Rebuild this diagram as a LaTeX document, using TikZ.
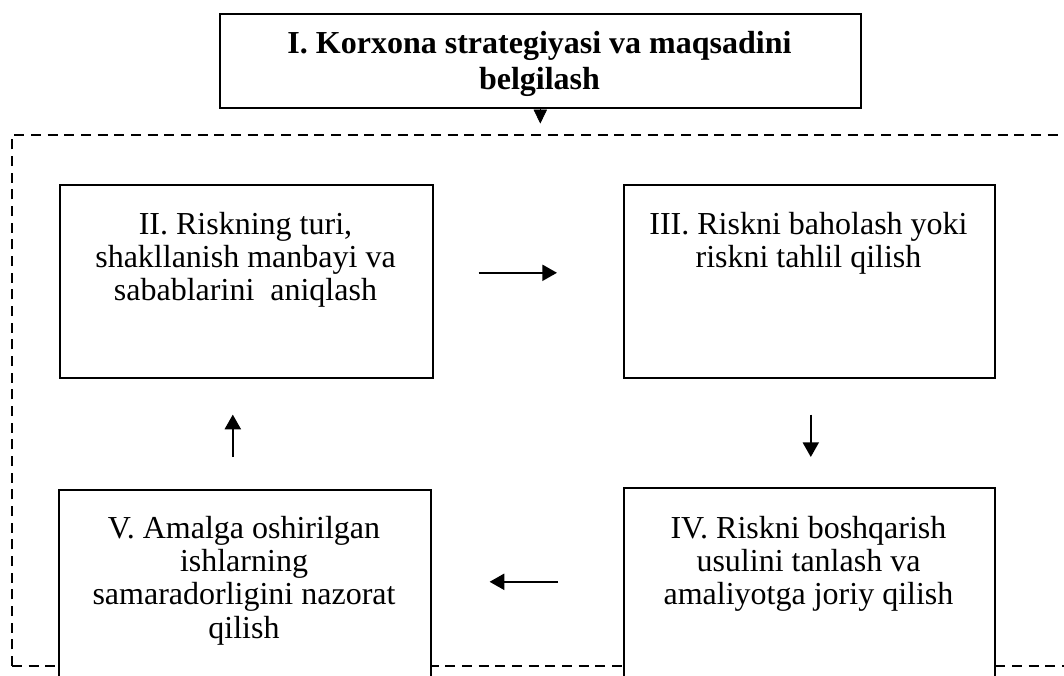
\documentclass[tikz,border=0pt]{standalone}
\usepackage{fontspec}
\setmainfont{Liberation Serif}
\usetikzlibrary{arrows.meta,calc}
\begin{document}
\begin{tikzpicture}[x=0.75pt,y=-0.75pt,
  box/.style={draw, line width=1.2pt, fill=white, inner sep=0pt, anchor=north west},
  body/.style={font=\fontsize{24pt}{25pt}\selectfont, align=center, inner sep=0pt, anchor=north},
  titletext/.style={font=\bfseries\fontsize{24pt}{27pt}\selectfont, align=center, inner sep=0pt, anchor=north},
  arr/.style={line width=1.6pt, -{Triangle[length=11pt,width=12pt]}},
  frame/.style={line width=1.5pt, dash pattern=on 7.5pt off 5pt}]
\path[use as bounding box, clip] (0,0) rectangle (1064,675);
% dashed frame
\draw[frame] (12,666) -- (12,135) -- (1090,135);
\draw[frame] (12,666) -- (1090,666);
% boxes
\node[box, minimum width=480.75pt, minimum height=70.5pt] (top) at (219,13) {};
\node[box, minimum width=279.75pt, minimum height=144.75pt] (b2) at (59,184) {};
\node[box, minimum width=278.25pt, minimum height=144.75pt] (b3) at (623,184) {};
\node[box, minimum width=278.25pt, minimum height=187.5pt] (b4) at (623,487) {};
\node[box, minimum width=279pt, minimum height=187.5pt] (b5) at (58,489) {};
% texts
\node[titletext] (t1) at (539.5,29) {\rule{0pt}{18pt}I. Korxona strategiyasi va maqsadini\\belgilash};
\node[body] (t2) at (245.5,210) {\rule{0pt}{18pt}II. Riskning turi,\\shakllanish manbayi va\\sabablarini~ aniqlash};
\node[body] (t3) at (808.5,210) {\rule{0pt}{18pt}III. Riskni baholash yoki\\riskni tahlil qilish};
\node[body] (t4) at (808.5,514) {\rule{0pt}{18pt}IV. Riskni boshqarish\\usulini tanlash va\\amaliyotga joriy qilish};
\node[body] (t5) at (244,514) {\rule{0pt}{18pt}V. Amalga oshirilgan\\ishlarning\\samaradorligini nazorat\\qilish};
% arrows
\draw[line width=0.5pt, -{Triangle[length=10.5pt,width=10pt]}] (top.south) -- ++(0,15);
\draw[arr] ($(b2.east)+(45,-8.5)$) -- ($(b3.west)+(-66,-8.5)$);
\draw[arr] ($(b3.south)+(1.5,36)$) -- ($(b4.north)+(1.5,-30)$);
\draw[arr] ($(b4.west)+(-65,-31)$) -- ($(b5.east)+(58,-33)$);
\draw[arr] ($(b5.north)+(-12,-32)$) -- ($(b2.south)+(-13.5,36)$);
\end{tikzpicture}
\end{document}
